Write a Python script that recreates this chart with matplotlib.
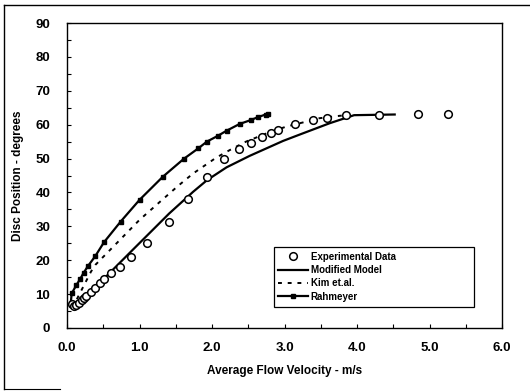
import matplotlib
matplotlib.use("Agg")
import matplotlib.pyplot as plt
from matplotlib.lines import Line2D
from matplotlib.ticker import MultipleLocator

plt.rcParams['font.family'] = ['Liberation Sans', 'DejaVu Sans']
plt.rcParams['font.weight'] = 'bold'

# experimental data (circles)
exp_v = [0.07, 0.10, 0.13, 0.16, 0.20, 0.23, 0.26, 0.33, 0.39, 0.45, 0.51, 0.60,
         0.73, 0.88, 1.11, 1.41, 1.67, 1.93, 2.17, 2.37, 2.54, 2.69, 2.82, 2.91,
         3.15, 3.39, 3.59, 3.85, 4.30, 4.84, 5.26]
exp_deg = [7.0, 6.5, 6.8, 7.5, 8.3, 8.9, 9.4, 10.7, 11.9, 13.4, 14.5, 16.2,
           18.1, 20.9, 25.2, 31.4, 38.0, 44.6, 49.9, 52.7, 54.7, 56.4, 57.4, 58.3,
           60.1, 61.4, 61.9, 62.8, 63.0, 63.1, 63.1]

# modified model
mod_v = [0.05, 0.10, 0.30, 0.60, 0.88, 1.11, 1.41, 1.74, 1.93, 2.20, 2.52, 2.98, 3.20,
         3.62, 3.96, 4.52]
mod_deg = [7.5, 6.3, 10.0, 16.5, 22.5, 27.4, 33.8, 40.2, 43.6, 47.4, 50.8, 55.2, 57.0,
           60.4, 62.8, 63.0]

# Kim et al.
kim_v = [0.05, 0.10, 0.33, 0.39, 0.73, 1.00, 1.28, 1.53, 1.74, 2.06, 2.27, 2.47, 2.75,
         3.02, 3.30, 3.48, 3.71, 3.85]
kim_deg = [7.5, 7.0, 16.6, 18.6, 26.0, 31.9, 37.2, 41.9, 45.6, 50.3, 52.8, 55.0, 57.4,
           59.4, 60.9, 61.9, 62.5, 62.8]

# Rahmeyer
rah_v = [0.05, 0.065, 0.13, 0.18, 0.23, 0.29, 0.39, 0.51, 0.74, 1.00, 1.32, 1.61, 1.81,
         1.93, 2.08, 2.20, 2.38, 2.54, 2.63, 2.74, 2.77]
rah_deg = [7.0, 10.2, 12.7, 14.4, 16.3, 18.3, 21.2, 25.3, 31.4, 37.8, 44.6, 49.9, 53.0,
           55.0, 56.7, 58.2, 60.2, 61.4, 62.2, 63.0, 63.2]

fig = plt.figure(figsize=(5.30, 3.91), dpi=100)
ax = fig.add_axes([67 / 530, 1 - 328 / 391, 435 / 530, 305 / 391])

ax.plot(exp_v, exp_deg, linestyle='none', marker='o', markersize=5.5,
        markerfacecolor='white', markeredgecolor='black', markeredgewidth=1.1, zorder=3)
ax.plot(mod_v, mod_deg, color='black', linewidth=1.6, zorder=2)
ax.plot(kim_v, kim_deg, color='black', linewidth=1.4, linestyle=(0, (2, 3)), zorder=2)
ax.plot(rah_v, rah_deg, color='black', linewidth=1.6, marker='s', markersize=3.5, zorder=2)

ax.set_xlim(0, 6)
ax.set_ylim(0, 90)
ax.xaxis.set_major_locator(MultipleLocator(1))
ax.xaxis.set_minor_locator(MultipleLocator(0.5))
ax.yaxis.set_major_locator(MultipleLocator(10))
ax.yaxis.set_minor_locator(MultipleLocator(5))
ax.xaxis.set_major_formatter(matplotlib.ticker.FormatStrFormatter('%.1f'))
ax.tick_params(which='both', direction='in', length=3, width=0.8, labelsize=9.5)
ax.tick_params(axis='x', pad=10)
ax.tick_params(axis='y', pad=12)
for lbl in ax.get_xticklabels() + ax.get_yticklabels():
    lbl.set_fontweight('bold')
for sp in ax.spines.values():
    sp.set_linewidth(1.0)

ax.set_xlabel('Average Flow Velocity - m/s', fontsize=8.5, fontweight='bold', labelpad=8)
ax.set_ylabel('Disc Position - degrees', fontsize=8.5, fontweight='bold', labelpad=8)

handles = [
    Line2D([], [], linestyle='none', marker='o', markersize=5.5, markerfacecolor='white',
           markeredgecolor='black', markeredgewidth=1.1),
    Line2D([], [], color='black', linewidth=1.6),
    Line2D([], [], color='black', linewidth=1.4, linestyle=(0, (2, 3))),
    Line2D([], [], color='black', linewidth=1.6, marker='s', markersize=3.5),
]
labels = ['Experimental Data', 'Modified Model', 'Kim et.al.', 'Rahmeyer']
leg = ax.legend(handles, labels, loc='lower left', bbox_to_anchor=(0.475, 0.07, 0.46, 0.27),
                mode='expand', fontsize=7, frameon=True, fancybox=False,
                edgecolor='black', framealpha=1, handlelength=3, handletextpad=0.3,
                labelspacing=0.35, borderpad=0.5, borderaxespad=0)
leg.get_frame().set_linewidth(0.9)
for t in leg.get_texts():
    t.set_fontweight('bold')

# outer frame remnants from the scan
fig.add_artist(Line2D([4 / 530, 4 / 530], [1 - 389 / 391, 1 - 5 / 391], color='black',
                      linewidth=1.0, transform=fig.transFigure))
fig.add_artist(Line2D([4 / 530, 1.0], [1 - 5 / 391, 1 - 5 / 391], color='black',
                      linewidth=1.0, transform=fig.transFigure))
fig.add_artist(Line2D([4 / 530, 60 / 530], [1 - 389 / 391, 1 - 389 / 391], color='black',
                      linewidth=0.8, transform=fig.transFigure))

fig.savefig('out.png', dpi=100)
